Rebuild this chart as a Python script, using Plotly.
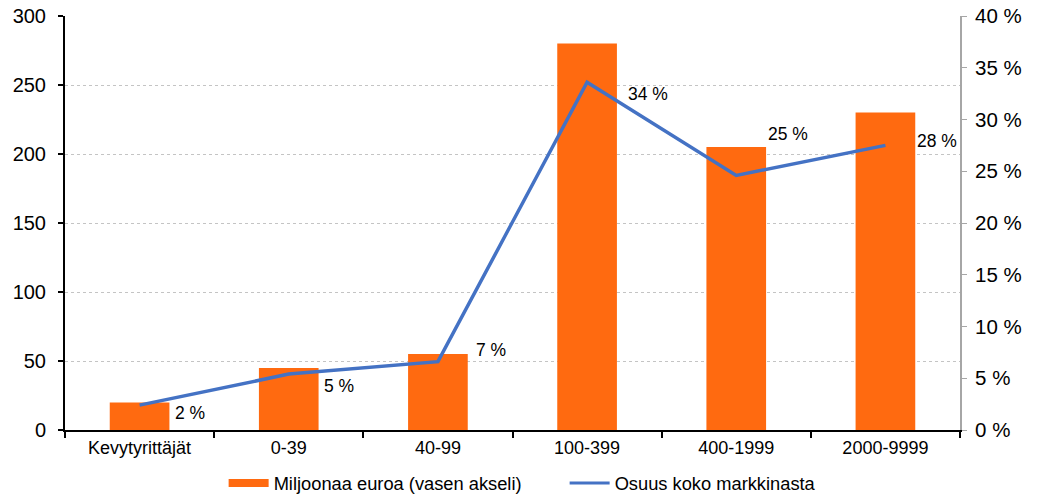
import plotly.graph_objects as go

# Market by company size class
categories = ["Kevytyrittäjät", "0-39", "40-99", "100-399", "400-1999", "2000-9999"]
million_eur = [20, 45, 55, 280, 205, 230]           # left axis, million euros
market_share = [2.4, 5.4, 6.6, 33.6, 24.6, 27.5]     # right axis, percent

bar_name = "Miljoonaa euroa (vasen akseli)"
line_name = "Osuus koko markkinasta"

ORANGE = "#FF6A10"
BLUE = "#4472C4"
FONT = "Liberation Sans, Arial, sans-serif"

# pixel offsets of each share label relative to its point (dx, dy; dy up)
label_shift = [(33, -8), (33, -12), (36, 12), (39, -12), (30, 41), (30, 4)]

fig = go.Figure()

fig.add_trace(go.Bar(
    x=categories, y=million_eur, name=bar_name,
    marker=dict(color=ORANGE, line=dict(width=0)),
    width=0.4, showlegend=False, yaxis="y",
))

fig.add_trace(go.Scatter(
    x=categories, y=market_share, name=line_name,
    mode="lines", line=dict(color=BLUE, width=3.5),
    yaxis="y2", showlegend=False,
))

# legend entries drawn as short thick/thin strokes
fig.add_trace(go.Scatter(
    x=[None], y=[None], name=bar_name, mode="lines",
    line=dict(color=ORANGE, width=8), yaxis="y",
))
fig.add_trace(go.Scatter(
    x=[None], y=[None], name=line_name, mode="lines",
    line=dict(color=BLUE, width=3), yaxis="y2",
))

for cat, val, (dx, dy) in zip(categories, market_share, label_shift):
    fig.add_annotation(
        x=cat, y=val, xref="x", yref="y2",
        text=f"{val:.0f} %", showarrow=False,
        xanchor="left", yanchor="middle",
        xshift=dx, yshift=dy,
        font=dict(family=FONT, size=17.5, color="black"),
    )

fig.update_layout(
    width=1045, height=494,
    margin=dict(l=65, r=85, t=16, b=64, autoexpand=False),
    paper_bgcolor="white", plot_bgcolor="white",
    font=dict(family=FONT, size=17, color="black"),
    bargap=0.6,
    xaxis=dict(
        type="category", tickson="boundaries",
        showline=True, linecolor="black", linewidth=2,
        ticks="outside", ticklen=6, tickcolor="black", tickwidth=2,
        showgrid=False, tickfont=dict(size=18),
    ),
    yaxis=dict(
        range=[0, 300], dtick=50,
        showline=True, linecolor="black", linewidth=2,
        ticks="outside", ticklen=5, tickcolor="black", tickwidth=2,
        showgrid=True, gridcolor="#c4c4c4", griddash="dot", gridwidth=1,
        zeroline=False, tickfont=dict(size=20), ticklabelstandoff=8,
    ),
    yaxis2=dict(
        range=[0, 40], dtick=5, ticksuffix=" %",
        overlaying="y", side="right",
        showline=True, linecolor="#a6a6a6", linewidth=2,
        ticks="outside", ticklen=5, tickcolor="#a6a6a6", tickwidth=1,
        showgrid=False, zeroline=False, tickfont=dict(size=20.5),
        ticklabelstandoff=4,
    ),
    legend=dict(
        orientation="h", yref="container", xref="container",
        x=0.214, xanchor="left", y=0.022, yanchor="middle",
        font=dict(size=18.3), itemwidth=40, entrywidth=286,
    ),
)

fig.write_html("out.html")
